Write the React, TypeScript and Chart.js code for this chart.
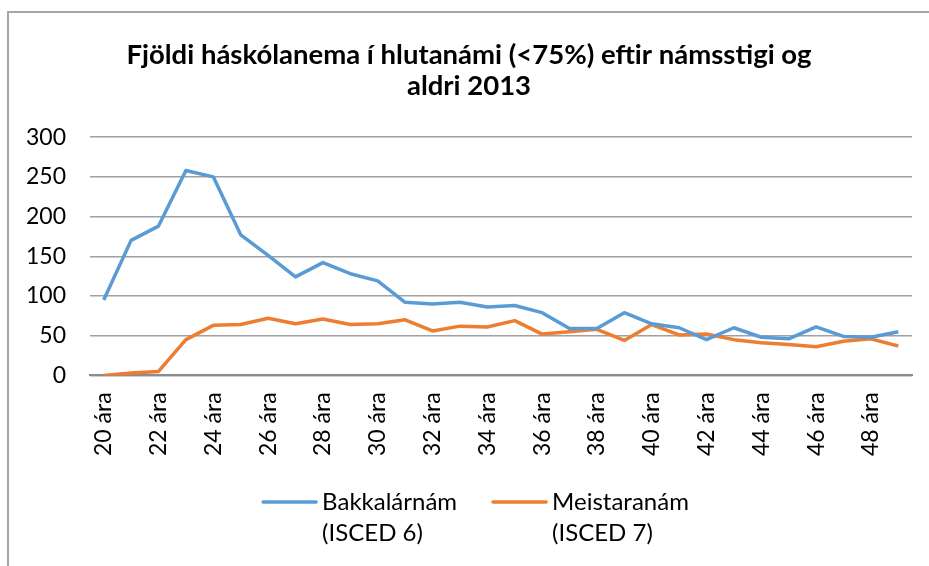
import React, { useEffect, useRef } from "react";
import { Chart, registerables } from "chart.js";

Chart.register(...registerables);

const categories: string[] = [
  "20 ára", "21 ára", "22 ára", "23 ára", "24 ára", "25 ára", "26 ára", "27 ára", "28 ára", "29 ára",
  "30 ára", "31 ára", "32 ára", "33 ára", "34 ára", "35 ára", "36 ára", "37 ára", "38 ára", "39 ára",
  "40 ára", "41 ára", "42 ára", "43 ára", "44 ára", "45 ára", "46 ára", "47 ára", "48 ára", "49 ára",
];

const bakkalar: number[] = [
  95, 170, 188, 258, 250, 177, 151, 124, 142, 128,
  119, 92, 90, 92, 86, 88, 79, 59, 59, 79,
  65, 60, 45, 60, 48, 46, 61, 49, 48, 55,
];

const meistara: number[] = [
  0, 3, 5, 45, 63, 64, 72, 65, 71, 64,
  65, 70, 56, 62, 61, 69, 52, 55, 58, 44,
  64, 51, 52, 45, 41, 39, 36, 43, 46, 37,
];

const seriesNames: string[][] = [
  ["Bakkalárnám", "(ISCED 6)"],
  ["Meistaranám", "(ISCED 7)"],
];
const seriesColors: string[] = ["#5b9bd5", "#ed7d31"];

const titleLines: string[] = [
  "Fjöldi háskólanema í hlutanámi (<75%) eftir námsstigi og",
  "aldri 2013",
];

const FONT = "Lato, 'Open Sans', sans-serif";

const legendPlugin = {
  id: "twoLineLegend",
  afterDraw(chart: any) {
    const ctx = chart.ctx as CanvasRenderingContext2D;
    const fontSize = 24;
    const lineH = 31;
    const boxW = 53;
    const gap = 6;
    const itemGap = 36;
    ctx.save();
    ctx.font = `${fontSize}px ${FONT}`;
    const widths = seriesNames.map((lines) =>
      Math.max(...lines.map((l) => ctx.measureText(l).width))
    );
    const total =
      widths.reduce((a, b) => a + b, 0) + seriesNames.length * (boxW + gap) + itemGap * (seriesNames.length - 1);
    let x = chart.width / 2 + 3 - total / 2;
    const y = 490;
    seriesNames.forEach((lines, i) => {
      ctx.strokeStyle = seriesColors[i];
      ctx.lineWidth = 3.5;
      ctx.lineCap = "round";
      ctx.beginPath();
      ctx.moveTo(x, y);
      ctx.lineTo(x + boxW, y);
      ctx.stroke();
      ctx.fillStyle = "#000";
      ctx.textBaseline = "middle";
      ctx.textAlign = "left";
      lines.forEach((l, j) => ctx.fillText(l, x + boxW + gap, y + j * lineH));
      x += boxW + gap + widths[i] + itemGap;
    });
    ctx.restore();
  },
};

export default function App() {
  const ref = useRef<HTMLCanvasElement | null>(null);

  useEffect(() => {
    if (!ref.current) return;
    const chart = new Chart(ref.current, {
      type: "line",
      data: {
        labels: categories,
        datasets: [
          {
            label: seriesNames[0].join(" "),
            data: bakkalar,
            borderColor: seriesColors[0],
            backgroundColor: seriesColors[0],
            borderWidth: 3.5,
            pointRadius: 0,
            tension: 0,
            borderJoinStyle: "round",
          },
          {
            label: seriesNames[1].join(" "),
            data: meistara,
            borderColor: seriesColors[1],
            backgroundColor: seriesColors[1],
            borderWidth: 3.5,
            pointRadius: 0,
            tension: 0,
            borderJoinStyle: "round",
          },
        ],
      },
      options: {
        animation: false,
        responsive: false,
        maintainAspectRatio: false,
        layout: { padding: { left: 18, right: 26, top: 0, bottom: 109 } },
        plugins: {
          legend: { display: false },
          tooltip: { enabled: false },
          title: {
            display: true,
            text: titleLines,
            color: "#000",
            font: { family: FONT, size: 27.5, weight: "bold", lineHeight: 1.13 },
            padding: { top: 28, bottom: 35 },
          },
        },
        scales: {
          x: {
            offset: true,
            grid: { display: false, drawTicks: false },
            border: { display: true, color: "#8c8c8c", width: 2 },
            afterFit: (scale: any) => {
              scale.paddingLeft = 0;
              scale.paddingRight = 0;
            },
            ticks: {
              autoSkip: false,
              maxRotation: 90,
              minRotation: 90,
              padding: 17,
              color: "#000",
              font: { family: FONT, size: 23 },
              callback: (_v: any, i: number) => (i % 2 === 0 ? categories[i] : ""),
            },
          },
          y: {
            min: 0,
            max: 300,
            grid: { color: "#a0a0a0", lineWidth: 1.4, drawTicks: false },
            border: { display: false },
            afterFit: (scale: any) => {
              scale.width = 64;
            },
            ticks: {
              stepSize: 50,
              padding: 24,
              color: "#000",
              font: { family: FONT, size: 23 },
            },
          },
        },
      },
      plugins: [legendPlugin],
    });
    return () => chart.destroy();
  }, []);

  return (
    <div
      style={{
        position: "fixed",
        left: 0,
        top: 0,
        width: 929,
        height: 566,
        overflow: "hidden",
        background: "#fff",
      }}
    >
      <div
        style={{
          position: "absolute",
          left: 7,
          top: 11,
          width: 1000,
          height: 1000,
          border: "2px solid #a6a6a6",
          boxSizing: "border-box",
        }}
      />
      <canvas
        ref={ref}
        width={930}
        height={570}
        style={{ position: "absolute", left: 8, top: 12, width: 930, height: 570 }}
      />
    </div>
  );
}
